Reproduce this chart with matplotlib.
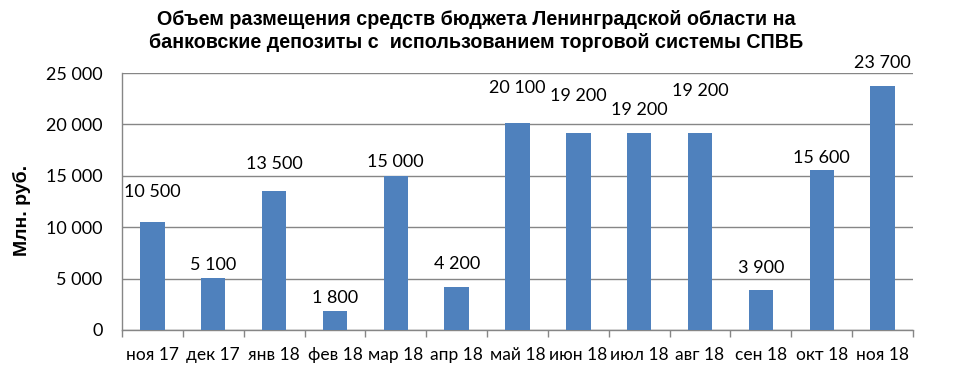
import matplotlib
matplotlib.use("Agg")
import matplotlib.pyplot as plt
from matplotlib.ticker import FuncFormatter, FixedLocator

categories = ["ноя 17", "дек 17", "янв 18", "фев 18", "мар 18", "апр 18", "май 18",
              "июн 18", "июл 18", "авг 18", "сен 18", "окт 18", "ноя 18"]
values = [10500, 5100, 13500, 1800, 15000, 4200, 20100, 19200, 19200, 19200, 3900, 15600, 23700]
yticks = [0, 5000, 10000, 15000, 20000, 25000]

# layout: vertical offset (pixels) of each data label above its bar
label_dy = [30, 13, 27, 13, 14, 23, 35, 37, 23, 42, 22, 12, 23]

title = "Объем размещения средств бюджета Ленинградской области на\nбанковские депозиты с  использованием торговой системы СПВБ"
ylabel = "Млн. руб."

bar_color = "#4F81BD"
grid_color = "#868686"
num_font = ["Lato", "DejaVu Sans"]

fig = plt.figure(figsize=(9.73, 3.74), dpi=100)
ax = fig.add_axes([122 / 973, 1 - 330 / 374, (913 - 122) / 973, (330 - 73) / 374])

x = list(range(len(categories)))
ax.bar(x, values, width=0.4, color=bar_color, zorder=3)

ax.set_xlim(-0.5, len(categories) - 0.5)
ax.set_ylim(0, 25000)
ax.set_yticks(yticks)
ax.yaxis.set_major_formatter(FuncFormatter(lambda v, p: f"{int(v):,}".replace(",", " ")))
ax.grid(axis="y", color=grid_color, linewidth=1, zorder=0)
ax.tick_params(axis="y", length=0, pad=14, labelsize=13, labelcolor="black")
for lbl in ax.get_yticklabels():
    lbl.set_fontfamily(num_font)

ax.set_xticks(x)
ax.set_xticklabels(categories, fontsize=12.5, fontfamily=num_font)
ax.xaxis.set_minor_locator(FixedLocator([i - 0.5 for i in range(len(categories) + 1)]))
ax.tick_params(axis="x", which="major", length=0, pad=12)
ax.tick_params(axis="x", which="minor", length=5, color=grid_color, width=1)

for s in ["top", "right"]:
    ax.spines[s].set_visible(False)
for s in ["left", "bottom"]:
    ax.spines[s].set_color(grid_color)
    ax.spines[s].set_linewidth(1)

for xi, v, dy in zip(x, values, label_dy):
    ax.annotate(f"{v:,}".replace(",", " "), (xi, v), xytext=(0, dy),
                textcoords="offset pixels", ha="center", va="center",
                fontsize=13, fontfamily=num_font, zorder=4)

fig.text(476 / 973, 1 - 31 / 374, title, ha="center", va="center",
         fontsize=14.2, fontweight="bold", linespacing=1.3,
         fontfamily=["Liberation Sans Narrow", "DejaVu Sans Condensed", "Liberation Sans", "DejaVu Sans"])
fig.text(22 / 973, 1 - 210 / 374, ylabel, ha="center", va="center", rotation=90,
         fontsize=14, fontweight="bold", fontfamily=["Liberation Sans", "DejaVu Sans"])

fig.savefig("out.png", dpi=100)
